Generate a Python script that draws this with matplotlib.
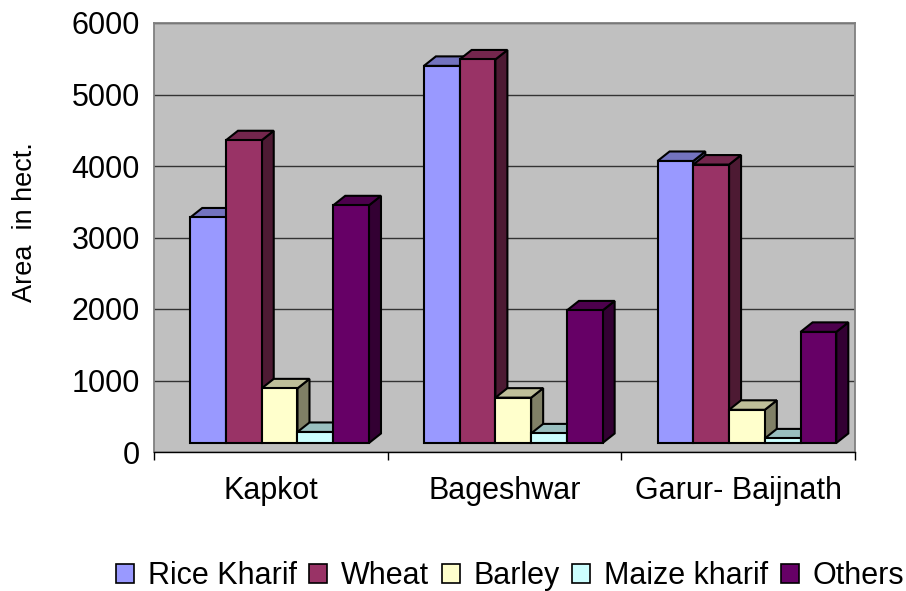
import numpy as np
import matplotlib
matplotlib.use("Agg")
from matplotlib import pyplot as plt
from matplotlib.patches import Polygon, Rectangle, Patch
from matplotlib.colors import to_rgb

plt.rcParams['font.family'] = ['Liberation Sans', 'DejaVu Sans']

# data (hectares)
blocks = ['Kapkot', 'Bageshwar', 'Garur- Baijnath']
crops = ['Rice Kharif', 'Wheat', 'Barley', 'Maize kharif', 'Others']
rice_kharif = [3280, 5400, 4070]
wheat = [4360, 5490, 4020]
barley = [890, 760, 590]
maize_kharif = [280, 260, 190]
others = [3450, 1980, 1680]
series = [rice_kharif, wheat, barley, maize_kharif, others]

colors = ['#9999FF', '#993366', '#FFFFCC', '#CCFFFF', '#660066']

fig = plt.figure(figsize=(9.06, 5.91), dpi=100)
ax = fig.add_axes([154 / 906, 139 / 591, 701 / 906, 429 / 591])
ax.set_facecolor('#C0C0C0')
ax.set_xlim(0, 3)
ax.set_ylim(0, 6000)

# fake 3d columns like the old excel look
w = 0.153
start = 0.155
dx = 0.0514      # depth offset in x (data units)
dy = 133         # depth offset in y (data units)
floor = 126      # front face base sits a bit above the wall bottom


def shade(c, f):
    r, g, b = to_rgb(c)
    return (r * f, g * f, b * f)


z = 3
for i in range(len(blocks)):
    for k, vals in enumerate(series):
        v = vals[i]
        x = i + start + k * w
        c = colors[k]
        side = Polygon([(x + w, floor), (x + w + dx, floor + dy),
                        (x + w + dx, v + dy), (x + w, v)],
                       closed=True, fc=shade(c, 0.5), ec='black', lw=1.5, zorder=z)
        top = Polygon([(x, v), (x + w, v), (x + w + dx, v + dy), (x + dx, v + dy)],
                      closed=True, fc=shade(c, 0.75), ec='black', lw=1.5, zorder=z)
        front = Rectangle((x, floor), w, v - floor, fc=c, ec='black', lw=1.5, zorder=z)
        ax.add_patch(side)
        ax.add_patch(top)
        ax.add_patch(front)
        z += 1

ax.set_yticks(np.arange(0, 6001, 1000))
ax.yaxis.grid(True, color='#333333', lw=1.0)
ax.set_axisbelow(True)
ax.tick_params(axis='y', length=0, pad=10, labelsize=22)

ax.set_xticks([0, 1, 2, 3])
ax.set_xticklabels([])
ax.set_xticks([0.5, 1.5, 2.5], minor=True)
ax.set_xticklabels(blocks, minor=True)
ax.tick_params(axis='x', which='major', length=6, width=1, color='black', direction='out')
ax.tick_params(axis='x', which='minor', length=0, pad=17, labelsize=22)

for s in ['top', 'left', 'right']:
    ax.spines[s].set_color('#808080')
    ax.spines[s].set_linewidth(1.3)
ax.spines['bottom'].set_color('black')
ax.spines['bottom'].set_linewidth(1.0)

ax.set_ylabel('Area  in hect.', fontsize=19.5)
ax.yaxis.set_label_coords(-0.166, 0.536)

handles = [Patch(fc=c, ec='black', lw=1.2) for c in colors]
fig.legend(handles, crops, loc='center', bbox_to_anchor=(510 / 906, 1 - 576 / 591),
           ncol=5, frameon=False, fontsize=22, handlelength=0.6, handleheight=0.6,
           handletextpad=0.45, columnspacing=0.4, borderaxespad=0, borderpad=0)

fig.savefig('out.png', dpi=100)
